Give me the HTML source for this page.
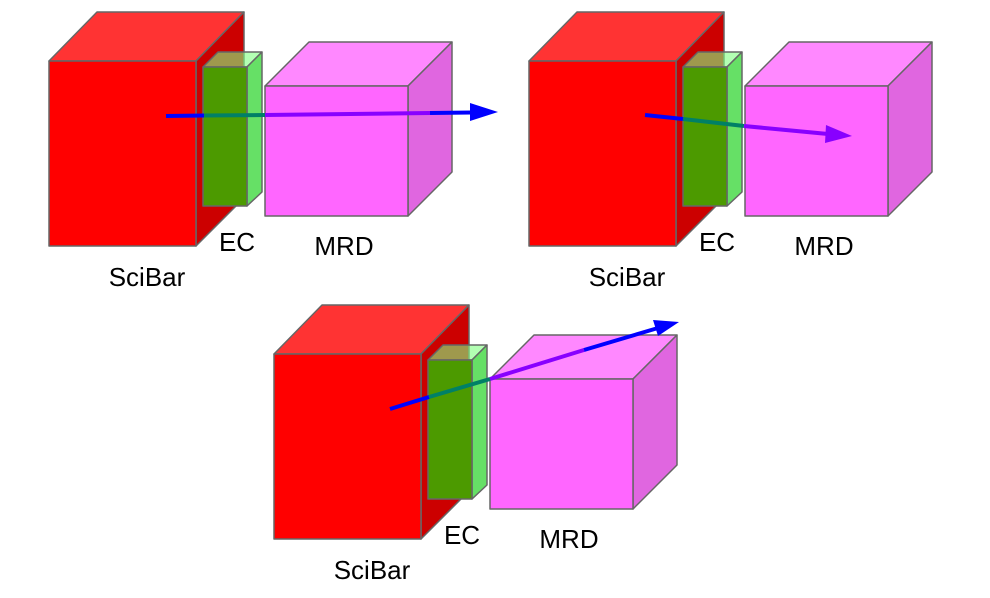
<!DOCTYPE html>
<html><head><meta charset="utf-8"><style>
html,body{margin:0;padding:0;background:#fff;width:990px;height:598px;overflow:hidden}
text{font-family:"Liberation Sans",sans-serif;font-size:26px;fill:#000}
</style></head><body>
<svg width="990" height="598" viewBox="0 0 990 598" xmlns="http://www.w3.org/2000/svg">
<defs>
<g id="boxes" stroke="#666" stroke-width="1.5" stroke-linejoin="round">
  <polygon points="49,61 97,12 244,12 196,61" fill="#ff3333"/>
  <polygon points="196,61 244,12 244,198 196,246" fill="#cc0000"/>
  <rect x="49" y="61" width="147" height="185" fill="#ff0000"/>
  <polygon points="203,67 218,52 262,52 247,67" fill="#80ff80" fill-opacity="0.6"/>
  <polygon points="247,67 262,52 262,192 247,206" fill="#66e066"/>
  <rect x="203" y="67" width="44" height="139" fill="#4c9a00"/>
  <polygon points="265,86 309,42 452,42 408,86" fill="#ff88ff"/>
  <polygon points="408,86 452,42 452,172 408,216" fill="#e066e0"/>
  <rect x="265" y="86" width="143" height="130" fill="#ff66ff"/>
</g>
<g id="labels">
  <text x="147" y="286" text-anchor="middle">SciBar</text>
  <text x="237" y="251" text-anchor="middle">EC</text>
  <text x="344" y="255" text-anchor="middle">MRD</text>
</g>
</defs>

<use href="#boxes"/><use href="#labels"/>
<g stroke-width="4" fill="none">
  <line x1="166" y1="116" x2="204" y2="115.5" stroke="#0000ff"/>
  <line x1="204" y1="115.5" x2="265" y2="115" stroke="#008066"/>
  <line x1="265" y1="115" x2="430" y2="113" stroke="#8800ff"/>
  <line x1="430" y1="113" x2="472" y2="112.5" stroke="#0000ff"/>
</g>
<polygon points="470,103 498,112 470,121" fill="#0000ff"/>

<g transform="translate(480,0)"><use href="#boxes"/><use href="#labels"/></g>
<g stroke-width="4" fill="none">
  <line x1="645" y1="115" x2="683" y2="119" stroke="#0000ff"/>
  <line x1="683" y1="119" x2="744" y2="126" stroke="#008066"/>
  <line x1="744" y1="126" x2="828" y2="134" stroke="#8800ff"/>
</g>
<polygon points="826,125 852,136 825,143" fill="#8800ff"/>

<g transform="translate(225,293)"><use href="#boxes"/><use href="#labels"/></g>
<g stroke-width="4" fill="none">
  <line x1="390" y1="409" x2="429" y2="397" stroke="#0000ff"/>
  <line x1="429" y1="397" x2="490" y2="379" stroke="#008066"/>
  <line x1="490" y1="379" x2="584" y2="350" stroke="#8800ff"/>
  <line x1="584" y1="350" x2="658" y2="328" stroke="#0000ff"/>
</g>
<polygon points="653,320 679,322 658,336" fill="#0000ff"/>
</svg>
</body></html>
